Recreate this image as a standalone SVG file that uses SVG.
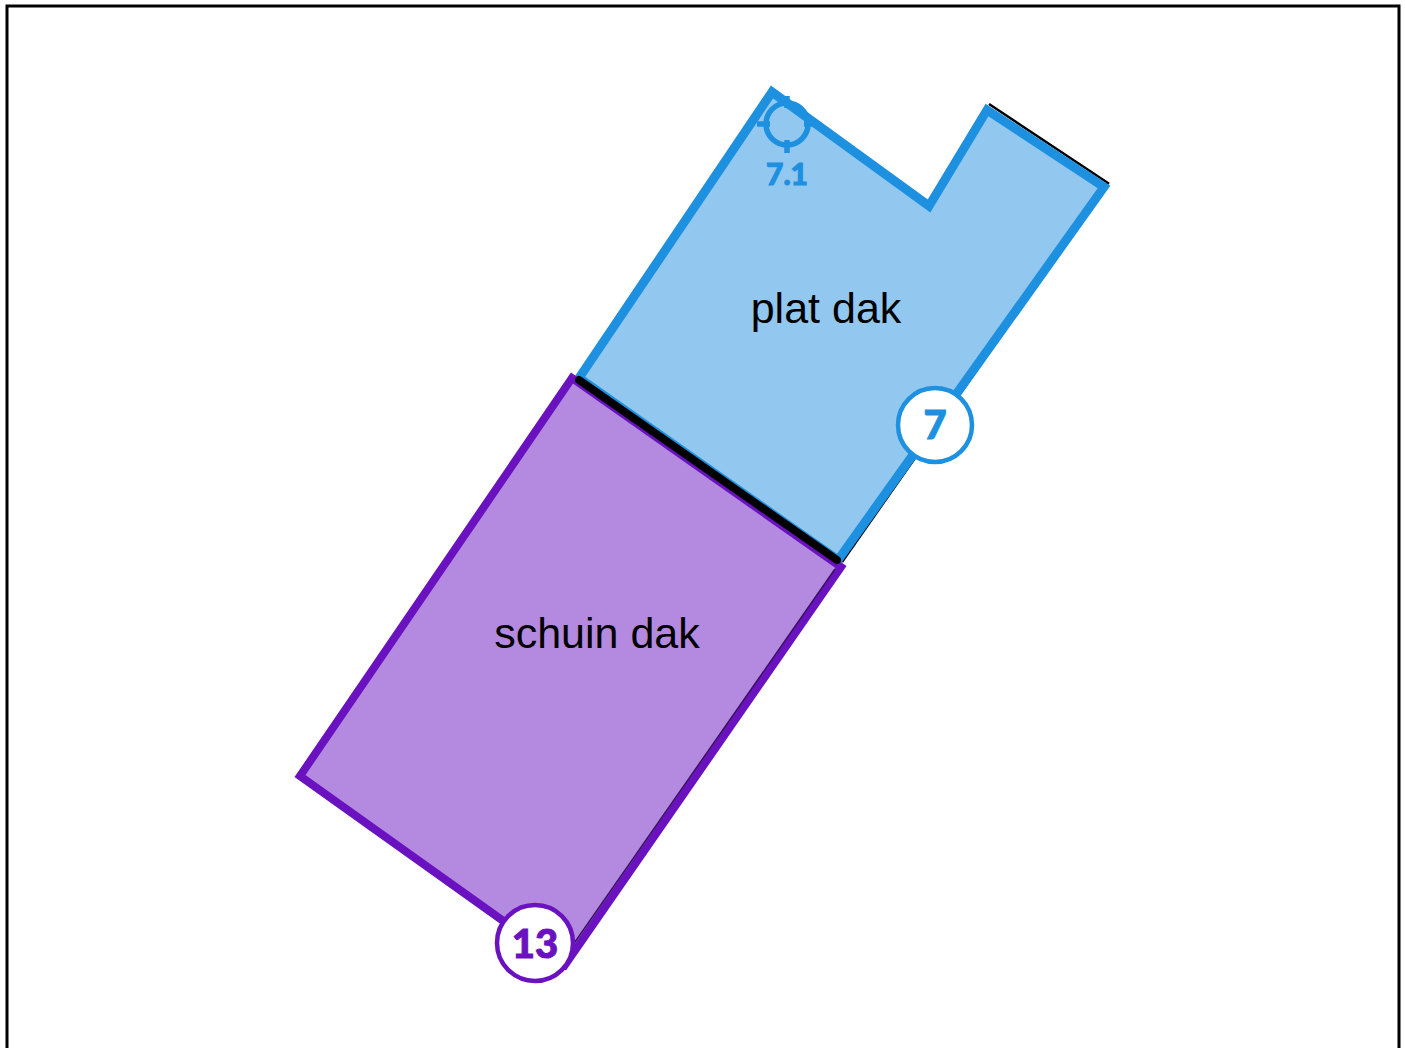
<svg xmlns="http://www.w3.org/2000/svg" width="1405" height="1048" viewBox="0 0 1405 1048">
<style>
.lbl{font-family:"Liberation Sans",Arial,sans-serif;font-size:43px;fill:#000}
.num{font-family:Lato,"Open Sans",sans-serif;font-weight:900;text-anchor:middle}
</style>
<rect x="0" y="0" width="1405" height="1048" fill="#fff"/>
<rect x="7" y="6" width="1392" height="1060" fill="none" stroke="#000" stroke-width="3"/>
<g id="plat-dak">
<polyline points="989,104 1108,183 842,562" fill="none" stroke="#000" stroke-width="2.5"/>
<polygon points="772,92 579,378 838,560 1104,187 987,110 929,206" fill="#92c8ef" stroke="#1e90e0" stroke-width="9" stroke-linejoin="miter"/>
<text class="lbl" x="826" y="323" text-anchor="middle">plat dak</text>
</g>
<g id="schuin-dak">
<polygon points="572,378 300,776 565,965 841,567" fill="#b38adf" stroke="#6a12c0" stroke-width="8"/>
<polyline points="835,569 561,962" fill="none" stroke="#3a1060" stroke-width="1.5"/>
<text class="lbl" x="597" y="648" text-anchor="middle">schuin dak</text>
</g>
<g id="connectors">
<line x1="579" y1="380" x2="837" y2="560" stroke="#000" stroke-width="8" stroke-linecap="round"/>
</g>
<g id="marker-7-1">
<g fill="none" stroke="#1e90e0" stroke-width="5.5">
<circle cx="787" cy="124" r="21"/>
<line x1="757" y1="124" x2="770" y2="124"/>
<line x1="804" y1="124" x2="816" y2="124"/>
<line x1="787" y1="96" x2="787" y2="108"/>
<line x1="787" y1="140" x2="787" y2="153"/>
</g>
<text class="num" x="787" y="185" font-size="30" fill="#1e90e0" stroke="#1e90e0" stroke-width="1">7.1</text>
</g>
<g id="badge-7">
<circle cx="935" cy="425" r="37" fill="#fff" stroke="#1e90e0" stroke-width="4.5"/>
<text class="num" x="935" y="439" font-size="40" fill="#1e90e0" stroke="#1e90e0" stroke-width="1">7</text>
</g>
<g id="badge-13">
<circle cx="535" cy="943" r="38" fill="#fff" stroke="#6a12c0" stroke-width="4.5"/>
<text class="num" x="535" y="958" font-size="40" fill="#6a12c0" stroke="#6a12c0" stroke-width="1">13</text>
</g>
</svg>
